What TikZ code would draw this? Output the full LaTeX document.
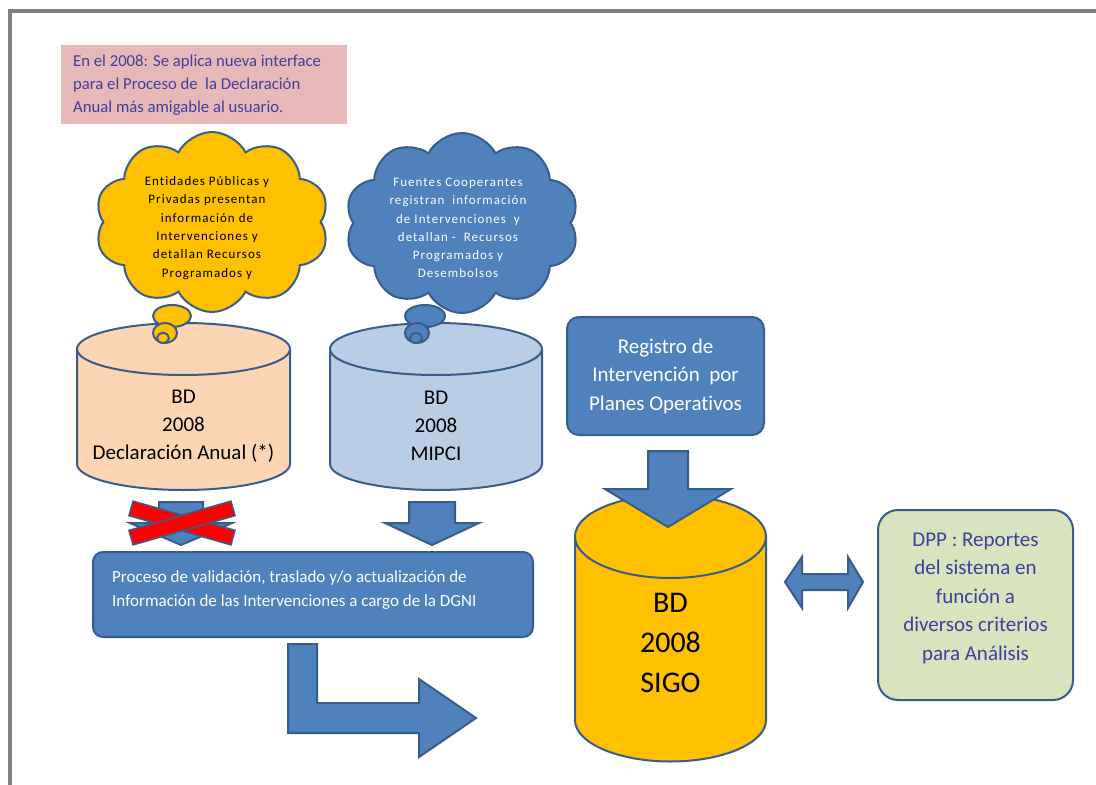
\documentclass[tikz,border=0pt]{standalone}
\usepackage{fontspec}
\setmainfont[Ligatures=NoCommon]{Carlito}
\usepackage{xcolor}
\usetikzlibrary{shapes.symbols}
\definecolor{procblue}{HTML}{4F81BD}
\definecolor{edgeblue}{HTML}{385D8A}
\definecolor{gold}{HTML}{FFC000}
\definecolor{peach}{HTML}{FCD5B5}
\definecolor{paleblue}{HTML}{B9CDE5}
\definecolor{sage}{HTML}{D7E4BD}
\definecolor{rose}{HTML}{E6B9B8}
\definecolor{navy}{HTML}{3F3F9F}
\definecolor{framegrey}{HTML}{808080}

% cx, rx, top centre y, bottom centre y, ry, fill
\newcommand{\dbcyl}[6]{%
  \fill[#6] (#1-#2,#3) rectangle (#1+#2,#4);
  \fill[#6] (#1,#4) ellipse ({#2} and {#5});
  \draw[edge] (#1-#2,#3) -- (#1-#2,#4) arc (180:0:{#2} and {#5}) -- (#1+#2,#3);
  \draw[edge,fill=#6] (#1,#3) ellipse ({#2} and {#5});}
% cx, top y, head base y, tip y, half shaft, half head
\newcommand{\downblock}[6]{%
  \draw[blockarrow] (#1-#5,#2) -- (#1+#5,#2) -- (#1+#5,#3) -- (#1+#6,#3)
    -- (#1,#4) -- (#1-#6,#3) -- (#1-#5,#3) -- cycle;}

\begin{document}
\begin{tikzpicture}[
  x=1pt,y=-1pt,
  every node/.style={align=center,inner sep=0pt},
  edge/.style={draw=edgeblue,line width=2pt},
  blockarrow/.style={edge,fill=procblue,line join=miter},
  bluebox/.style={edge,fill=procblue,rounded corners=12pt,text=white},
  thought/.style={cloud,cloud puffs=10,cloud puff arc=125,aspect=1.3,edge,minimum width=234pt,minimum height=180pt},
  bubble/.style={edge},
  cloudtext/.style={font=\fontsize{13}{18.3}\selectfont\addfontfeature{LetterSpace=8}},
  dbtext/.style={font=\fontsize{21}{28}\selectfont},
  crossbar/.style={draw=edgeblue,line width=1.6pt,fill=red,minimum width=106pt,minimum height=15pt}
]
\useasboundingbox (0,0) rectangle (1096,785);
\fill[white] (0,0) rectangle (1096,785);
\draw[framegrey,line width=4pt] (10,785) -- (10,11) -- (1096,11);

\fill[rose] (61,45) rectangle (347,124);
\node[anchor=west,align=left,text=navy,font=\fontsize{16.7}{23}\selectfont] (note) at (73,85)
  {En el 2008: Se aplica nueva interface\\para el Proceso de\ \ la Declaración\\Anual más amigable al usuario.};

\dbcyl{183.5}{106.5}{349}{464}{26}{peach}
\node[dbtext] (decl) at (183.5,426) {BD\\2008\\Declaración Anual (*)};
\dbcyl{436}{106}{349}{464}{26}{paleblue}
\node[dbtext] (mipci) at (436,426) {BD\\2008\\MIPCI};

\node[thought,fill=gold] (entidades) at (212,222) {};
\draw[bubble,fill=gold] (172,316) ellipse (19 and 11);
\draw[bubble,fill=gold] (165,333) ellipse (12 and 10);
\draw[bubble,fill=gold] (163,338) ellipse (6 and 5);
\node[cloudtext] (entidadestext) at (207,228)
  {Entidades Públicas y\\Privadas presentan\\información de\\Intervenciones y\\detallan Recursos\\Programados y};

\node[thought,fill=procblue] (fuentes) at (462,223) {};
\draw[bubble,fill=procblue] (425,316) ellipse (20 and 11);
\draw[bubble,fill=procblue] (417,333) ellipse (12 and 10);
\draw[bubble,fill=procblue] (416,338) ellipse (6 and 5);
\node[cloudtext,text=white] (fuentestext) at (458,228)
  {Fuentes Cooperantes\\registran\ \ información\\de Intervenciones\ \ y\\detallan -\ \ Recursos\\Programados y\\Desembolsos};

\downblock{181}{502}{523}{545}{22}{51}
\node[crossbar,rotate=-16] (crossa) at (182,523) {};
\node[crossbar,rotate=16] (crossb) at (182,523) {};
\downblock{432}{502}{523}{545}{23}{47}

\node[bluebox,rounded corners=10pt,minimum width=440pt,minimum height=85pt] (proceso) at (313,594.5) {};
\node[anchor=west,align=left,text=white,font=\fontsize{17}{24}\selectfont] (procesotext) at (112,590)
  {Proceso de validación, traslado y/o actualización de\\Información de las Intervenciones a cargo de la DGNI};
\draw[blockarrow] (288,644) -- (317,644) -- (317,703) -- (419,703) -- (419,679) -- (476,718)
  -- (419,757) -- (419,733) -- (288,733) -- cycle;

\node[bluebox,minimum width=197pt,minimum height=118pt,font=\fontsize{21}{28.5}\selectfont] (registro) at (665.5,376)
  {Registro de\\Intervención\ \ por\\Planes Operativos};

\dbcyl{670.5}{95.5}{536.5}{720}{41.5}{gold}
\node[font=\fontsize{30}{40}\selectfont] (sigo) at (670.5,643) {BD\\2008\\SIGO};
\downblock{668}{451}{489}{527}{20}{63}

\draw[blockarrow] (785,582) -- (802,557) -- (802,574) -- (848,574) -- (848,557) -- (863,582)
  -- (848,608) -- (848,590) -- (802,590) -- (802,608) -- cycle;

\node[edge,fill=sage,rounded corners=20pt,minimum width=195pt,minimum height=190pt] (dpp) at (975.5,605) {};
\node[text=navy,font=\fontsize{21}{28.5}\selectfont] (dpptext) at (975.5,598)
  {DPP : Reportes\\del sistema en\\función a\\diversos criterios\\para Análisis};
\end{tikzpicture}
\end{document}
